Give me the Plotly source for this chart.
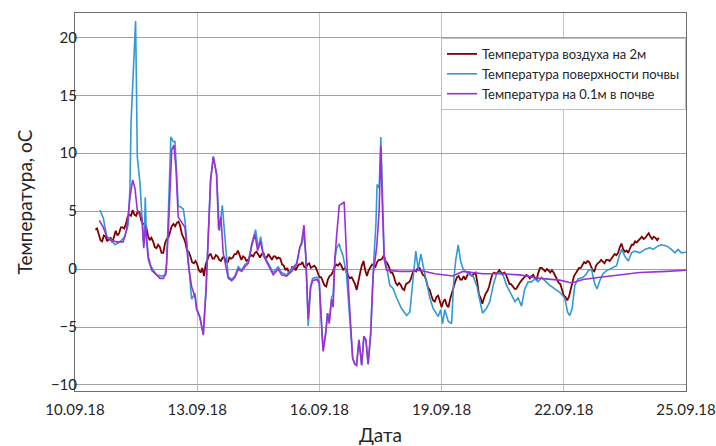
import pandas as pd
import plotly.graph_objects as go

# Air temperature at 2 m, hourly readings starting 10.09.2018 12:00
air_start = "2018-09-10 12:00"
air_step = "1h"
air_temp = [
    3.4, 3.5, 3.0, 2.5, 2.4, 2.9, 2.8, 2.4, 2.6, 2.7,
    2.3, 2.9, 3.3, 2.9, 3.1, 3.6, 3.6, 3.5, 3.9, 4.5,
    4.7, 4.6, 5.1, 4.7, 4.6, 5.0, 4.9, 4.2, 3.9, 3.9,
    3.6, 2.9, 2.5, 2.7, 2.4, 1.9, 1.8, 2.1, 1.9, 1.4,
    1.4, 2.2, 2.6, 2.7, 3.2, 3.7, 3.9, 3.7, 4.0, 4.1,
    3.7, 3.0, 2.7, 2.3, 1.6, 1.5, 1.1, 0.6, 0.5, 0.7,
    0.4, -0.1, -0.3, 0.1, -0.6, 0.4, 0.8, 1.2, 1.3, 0.9,
    0.9, 1.2, 1.1, 0.8, 0.7, 1.0, 1.0, 0.6, 0.6, 1.0,
    0.9, 1.0, 1.3, 1.3, 1.6, 1.1, 0.8, 1.1, 1.0, 0.7,
    0.8, 1.1, 1.2, 1.1, 1.4, 1.5, 1.2, 1.0, 1.3, 1.4,
    1.0, 1.0, 1.3, 1.1, 0.8, 1.1, 1.1, 0.9, 1.0, 0.9,
    0.4, 0.3, -0.1, 0.1, -0.3, -0.2, 0.2, 0.2, -0.1, 0.2,
    0.4, 0.4, 0.6, 0.2, 0.1, 0.4, 0.5, 0.1, 0.2, 0.3,
    0.1, -0.4, -0.7, -0.7, -1.1, -1.4, -1.5, -0.9, -0.6, -0.5,
    -0.2, 0.2, 0.4, 0.3, 0.5, 0.3, -0.1, 0.1, -0.2, -0.6,
    -0.8, -0.7, -1.0, -1.3, -1.8, -0.9, -0.3, 0.3, 0.7, -0.1,
    -0.6, -0.1, 0.2, 0.4, 0.3, 0.2, 0.6, 0.8, 0.8, 0.9,
    1.2, 0.7, 0.5, 0.2, -0.3, -0.3, -0.7, -1.2, -1.4, -1.2,
    -1.4, -1.7, -1.8, -1.3, -1.2, -1.1, -0.8, -0.3, -0.1, -0.2,
    0.1, 0.1, -0.2, -0.5, -0.6, -1.0, -1.6, -1.8, -2.3, -2.7,
    -2.8, -2.4, -2.3, -2.9, -3.3, -2.8, -2.6, -3.1, -3.3, -2.6,
    -2.0, -1.6, -1.1, -0.7, -0.6, -0.9, -0.9, -0.6, -0.9, -0.6,
    -0.3, -0.5, -0.6, -0.4, -0.3, -1.1, -2.2, -2.5, -3.0, -2.5,
    -2.1, -1.9, -1.5, -0.9, -0.4, -0.3, -0.4, -0.3, -0.1, -0.3,
    -0.4, -0.3, -0.5, -0.9, -1.3, -1.3, -1.5, -1.7, -1.7, -1.4,
    -1.2, -1.0, -0.8, -0.7, -0.5, -0.6, -0.8, -0.6, -0.5, -0.8,
    -0.9, -0.3, 0.1, 0.1, -0.1, -0.2, 0.0, -0.1, -0.3, -0.1,
    -0.3, -0.6, -1.0, -1.2, -1.3, -1.8, -2.3, -2.4, -2.7, -2.4,
    -1.9, -1.2, -0.6, -0.4, -0.1, 0.1, 0.1, 0.4, 0.6, 0.5,
    0.7, 0.6, 0.3, -0.1, -0.2, 0.3, 0.5, 0.6, 0.8, 0.6,
    0.5, 0.8, 0.8, 0.7, 0.9, 1.0, 1.3, 1.2, 1.4, 1.9,
    2.2, 1.7, 1.5, 1.6, 1.4, 1.8, 2.1, 2.1, 2.4, 2.3,
    2.5, 2.7, 2.8, 2.6, 2.7, 2.9, 3.1, 2.8, 2.6, 2.8,
    2.7, 2.5, 2.7,
]

# Soil surface temperature: hours after 10.09.2018 00:00 and readings
surface_hours = [
    14.7, 16.7, 17.7, 18.7, 20.6, 23.6, 26.5, 29.4, 31.4, 32.4, 33.0, 35.0, 35.7, 36.1, 36.7,
    38.3, 39.3, 40.2, 40.8, 41.4, 42.2, 43.2, 44.2, 46.1, 48.1, 51.1, 53.0, 54.0, 55.0, 56.0,
    56.5, 57.9, 58.9, 59.9, 60.8, 61.8, 63.8, 64.8, 66.7, 68.7, 70.7, 71.7, 73.6, 75.6, 77.2,
    78.5, 79.9, 81.5, 83.4, 85.1, 86.8, 88.3, 90.3, 92.3, 94.2, 96.2, 98.2, 100.1, 102.1, 104.1,
    106.4, 108.0, 109.4, 110.9, 113.8, 116.8, 119.7, 121.7, 124.7, 127.6, 130.6, 132.5, 133.5, 134.9, 136.0,
    137.4, 138.8, 140.0, 142.4, 143.9, 145.3, 146.2, 147.7, 148.8, 149.8, 151.2, 152.1, 153.1, 154.1, 155.7,
    156.1, 158.0, 160.0, 162.0, 163.6, 164.9, 165.9, 167.3, 168.9, 170.2, 171.4, 172.7, 174.2, 175.7, 177.3,
    178.0, 179.2, 180.2, 181.2, 182.2, 183.6, 185.5, 187.5, 189.5, 192.4, 195.4, 197.3, 198.9, 200.8, 202.2,
    203.8, 205.1, 207.1, 209.1, 211.0, 214.0, 215.4, 216.6, 217.9, 219.9, 221.9, 223.2, 224.4, 225.8, 227.2,
    228.7, 231.6, 234.6, 236.9, 238.9, 240.1, 242.4, 244.4, 246.4, 248.4, 250.3, 252.3, 254.3, 256.2, 259.2,
    261.1, 263.1, 265.0, 267.0, 269.0, 270.9, 272.9, 274.9, 276.8, 279.8, 282.7, 285.6, 288.6, 290.2, 291.5,
    292.9, 294.5, 296.4, 299.4, 301.4, 302.3, 304.3, 306.3, 307.6, 309.2, 311.1, 313.1, 315.1, 317.1, 319.1,
    320.6, 322.1, 324.0, 326.0, 327.9, 329.9, 332.8, 335.8, 338.7, 340.6, 343.6, 345.5, 348.5, 351.4, 353.4,
    355.3, 357.3, 360.0,
]
surface_temp = [
    5.1, 4.4, 3.6, 2.8, 2.6, 2.1, 2.35, 2.8, 3.9, 7.1, 12.6, 18.5, 21.4, 17.0, 9.7,
    7.4, 4.8, 2.5, 2.3, 6.2, 2.3, 0.8, 0.35, -0.1, -0.5, -0.6, -0.5, 0.5, 4.8, 9.1,
    11.4, 11.0, 11.0, 8.2, 5.4, 5.4, 5.2, 4.2, 0.5, -2.6, -2.1, -3.4, -4.1, -5.6, -1.8,
    3.4, 7.7, 9.7, 8.2, 3.3, 5.5, 2.8, -0.66, -0.9, -0.6, 0.2, -0.1, 0.4, 0.6, 2.2,
    3.4, 1.8, 2.8, 1.3, 0.5, -0.3, 0.2, -0.3, -0.5, 0.0, 0.5, 1.9, 2.1, 3.1, 1.2,
    -4.9, -1.5, -0.8, -0.7, -1.0, -5.0, -7.0, -5.5, -3.8, -4.5, -2.4, -2.2, 0.8, 1.8, 2.2,
    1.9, 1.1, -0.5, -4.4, -7.7, -8.2, -8.3, -6.1, -8.3, -5.8, -6.1, -8.2, -5.6, -0.1, 3.9,
    7.3, 7.0, 11.4, 5.4, 1.1, 0.2, -1.4, -1.7, -2.5, -3.4, -4.0, -3.7, -1.1, 1.55, 0.0,
    1.3, 0.3, -1.1, -2.5, -3.4, -4.1, -3.5, -4.7, -3.5, -4.5, -4.7, -0.85, 0.85, 2.1, 0.7,
    0.0, -0.4, -0.6, -1.55, -3.1, -3.8, -3.4, -2.8, -1.4, -0.4, -0.3, -0.55, -1.4, -2.0, -2.8,
    -2.5, -3.2, -1.7, -1.1, -1.1, -0.85, -1.1, -0.7, -1.0, -1.4, -1.7, -2.0, -2.5, -3.7, -4.0,
    -3.4, -1.4, -0.85, -0.7, -0.4, -0.15, 0.0, -1.3, -1.7, -1.0, -0.4, -0.15, 0.0, 0.15, 0.3,
    1.1, 1.7, 1.1, 0.7, 1.4, 1.55, 1.4, 1.7, 1.85, 1.7, 2.0, 2.1, 2.0, 1.7, 1.4,
    1.7, 1.4, 1.45,
]

# Temperature at 0.1 m depth: hours after 10.09.2018 00:00 and readings
soil_hours = [
    14.3, 16.7, 18.7, 20.6, 24.6, 28.4, 30.4, 32.4, 34.0, 35.3, 36.7, 38.3, 39.5, 40.5, 41.6,
    43.2, 45.2, 47.1, 50.1, 52.0, 53.6, 55.0, 56.0, 57.0, 58.3, 59.5, 60.8, 62.8, 64.8, 66.7,
    68.7, 70.7, 71.7, 73.6, 75.6, 77.2, 78.5, 79.9, 81.5, 83.4, 84.6, 86.0, 87.3, 90.3, 92.3,
    94.2, 96.2, 98.2, 100.1, 102.1, 104.1, 106.0, 107.6, 109.4, 110.9, 113.8, 116.8, 119.7, 121.7, 124.7,
    127.6, 130.6, 132.5, 133.5, 134.9, 136.0, 137.4, 138.8, 140.0, 142.4, 143.9, 145.3, 146.2, 147.7, 148.8,
    149.8, 151.2, 152.1, 153.1, 154.1, 155.7, 158.0, 158.6, 160.0, 162.0, 163.6, 164.9, 165.9, 167.3, 168.9,
    170.2, 171.4, 172.7, 174.2, 175.7, 177.8, 179.2, 180.2, 181.2, 182.2, 183.6, 191.4, 197.3, 203.2, 212.0,
    222.6, 228.5, 240.3, 250.3, 262.1, 273.9, 285.6, 292.5, 299.4, 309.2, 321.0, 332.8, 348.5, 360.0,
]
soil_temp = [
    4.2, 3.6, 2.8, 2.5, 2.35, 2.35, 3.4, 6.2, 7.7, 7.0, 5.1, 4.6, 4.4, 1.8, 3.8,
    1.06, -0.1, -0.4, -0.8, -0.8, -0.4, 3.4, 7.7, 10.3, 10.7, 8.7, 4.5, 4.1, 3.6, 0.5,
    -1.5, -2.4, -3.5, -4.2, -5.7, -1.8, 3.4, 7.7, 9.7, 8.2, 3.4, 4.5, 1.4, -0.8, -1.0,
    -0.7, 0.0, -0.2, 0.2, 0.5, 2.0, 3.0, 1.6, 2.4, 1.2, 0.3, -0.5, 0.0, -0.5, -0.6,
    -0.2, 0.4, 1.9, 2.3, 3.8, 1.0, -4.3, -1.6, -1.0, -0.9, -1.2, -5.0, -7.1, -5.6, -3.8,
    -4.7, -2.6, -3.3, 0.8, 2.8, 5.5, 5.7, 5.8, 1.1, -4.4, -7.7, -8.2, -8.3, -6.1, -8.3,
    -5.8, -6.1, -8.2, -5.6, -0.5, 2.0, 5.0, 10.6, 5.0, 0.8, -0.1, -0.2, -0.2, -0.1, -0.4,
    -0.6, -0.2, -0.4, -0.4, -0.5, -0.8, -0.95, -1.2, -0.9, -0.7, -0.5, -0.3, -0.2, -0.1,
]

series_names = [
    "Температура воздуха на 2м",
    "Температура поверхности почвы",
    "Температура на 0.1м в почве",
]
series_colors = ["#800000", "#3399d6", "#9b30d6"]

origin = pd.Timestamp("2018-09-10 00:00")
air_time = pd.date_range(air_start, periods=len(air_temp), freq=air_step)
surface_time = origin + pd.to_timedelta(surface_hours, unit="h")
soil_time = origin + pd.to_timedelta(soil_hours, unit="h")

fig = go.Figure()
for name, color, xs, ys, w in [
    (series_names[0], series_colors[0], air_time, air_temp, 1.8),
    (series_names[1], series_colors[1], surface_time, surface_temp, 1.6),
    (series_names[2], series_colors[2], soil_time, soil_temp, 1.6),
]:
    fig.add_trace(go.Scatter(x=xs, y=ys, mode="lines", name=name,
                             line=dict(color=color, width=w)))

font_family = "Lato, 'Open Sans', sans-serif"
fig.update_layout(
    width=716, height=446,
    margin=dict(l=75, r=30, t=13, b=55),
    paper_bgcolor="white", plot_bgcolor="white",
    font=dict(family=font_family, color="#262626"),
    showlegend=True,
    legend=dict(
        x=0.599, y=0.934, xanchor="left", yanchor="top",
        bgcolor="white", bordercolor="#bfbfbf", borderwidth=1,
        font=dict(size=13, color="#262626"),
    ),
    xaxis=dict(
        type="date",
        range=["2018-09-10", "2018-09-25"],
        tick0="2018-09-10", dtick=3 * 86400000,
        tickformat="%d.%m.%y",
        showgrid=True, gridcolor="#c4c4c4", gridwidth=1,
        showline=True, linecolor="#6e6e6e", linewidth=1, mirror=True,
        ticks="", ticklabelstandoff=5,
        tickfont=dict(size=15, color="#262626"),
        title=dict(text="Дата", font=dict(size=19), standoff=13),
        automargin=False,
    ),
    yaxis=dict(
        range=[-10.52, 22.1],
        tick0=0, dtick=5,
        showgrid=True, gridcolor="#a0a0a0", gridwidth=1,
        zeroline=False,
        showline=True, linecolor="#6e6e6e", linewidth=1, mirror=True,
        ticks="", ticklabelstandoff=-6,
        tickfont=dict(size=15, color="#262626"),
        title=dict(text="Температура, оС", font=dict(size=19), standoff=13),
        automargin=False,
    ),
)

fig.write_html("out.html")
